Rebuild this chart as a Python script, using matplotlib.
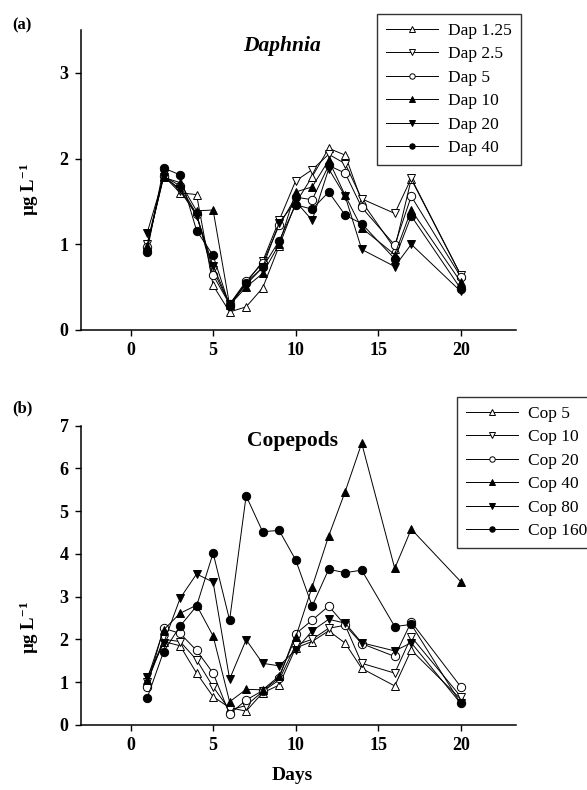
import matplotlib
matplotlib.use('Agg')
import matplotlib.pyplot as plt

# fonts: Times-like serif everywhere
plt.rcParams['font.family'] = ['Liberation Serif', 'DejaVu Serif']
plt.rcParams['mathtext.fontset'] = 'custom'
plt.rcParams['mathtext.rm'] = 'Liberation Serif'
plt.rcParams['mathtext.bf'] = 'Liberation Serif:bold'
plt.rcParams['mathtext.it'] = 'Liberation Serif:italic'

# sampling days (same for both panels)
days = [1, 2, 3, 4, 5, 6, 7, 8, 9, 10, 11, 12, 13, 14, 16, 17, 20]

# (a) Daphnia treatments
dap_labels = ['Dap 1.25', 'Dap 2.5', 'Dap 5', 'Dap 10', 'Dap 20', 'Dap 40']
dap_1_25 = [0.97, 1.80, 1.60, 1.58, 0.52, 0.21, 0.27, 0.49, 0.98, 1.48, 1.79, 2.12, 2.04, 1.50, 0.95, 1.76, 0.64]
dap_2_5 = [1.00, 1.82, 1.62, 1.35, 0.70, 0.30, 0.55, 0.80, 1.28, 1.74, 1.87, 2.05, 1.94, 1.53, 1.36, 1.77, 0.64]
dap_5 = [0.97, 1.80, 1.68, 1.35, 0.64, 0.30, 0.57, 0.78, 1.22, 1.55, 1.52, 1.92, 1.83, 1.43, 0.99, 1.56, 0.62]
dap_10 = [0.98, 1.78, 1.72, 1.39, 1.40, 0.29, 0.50, 0.66, 1.00, 1.61, 1.67, 1.98, 1.57, 1.19, 0.88, 1.40, 0.56]
dap_20 = [1.13, 1.78, 1.65, 1.33, 0.75, 0.30, 0.53, 0.73, 1.25, 1.50, 1.28, 1.88, 1.56, 0.94, 0.74, 1.00, 0.45]
dap_40 = [0.91, 1.89, 1.81, 1.16, 0.87, 0.28, 0.55, 0.73, 1.04, 1.46, 1.41, 1.61, 1.34, 1.24, 0.83, 1.33, 0.48]

# (b) Copepod treatments
cop_labels = ['Cop 5', 'Cop 10', 'Cop 20', 'Cop 40', 'Cop 80', 'Cop 160']
cop_5 = [1.00, 1.95, 1.85, 1.21, 0.66, 0.40, 0.32, 0.75, 0.93, 1.80, 1.95, 2.20, 1.91, 1.32, 0.91, 1.75, 0.60]
cop_10 = [1.00, 2.00, 1.95, 1.52, 0.89, 0.35, 0.45, 0.78, 1.05, 1.87, 2.00, 2.26, 2.33, 1.44, 1.21, 2.06, 0.66]
cop_20 = [0.89, 2.26, 2.14, 1.74, 1.21, 0.25, 0.58, 0.80, 1.10, 2.13, 2.45, 2.78, 2.33, 1.90, 1.60, 2.41, 0.89]
cop_40 = [1.05, 2.22, 2.61, 2.80, 2.08, 0.54, 0.83, 0.82, 1.14, 2.05, 3.23, 4.42, 5.46, 6.59, 3.66, 4.58, 3.35]
cop_80 = [1.12, 1.91, 2.96, 3.53, 3.34, 1.07, 1.99, 1.44, 1.38, 1.75, 2.20, 2.47, 2.38, 1.92, 1.73, 1.92, 0.50]
cop_160 = [0.62, 1.71, 2.31, 2.78, 4.02, 2.45, 5.36, 4.52, 4.55, 3.86, 2.78, 3.64, 3.56, 3.62, 2.30, 2.35, 0.50]

# marker shape / fill for the six treatments (same order in both panels)
markers = [('^', 'white'), ('v', 'white'), ('o', 'white'),
           ('^', 'black'), ('v', 'black'), ('o', 'black')]


def draw_panel(ax, series, labels, ymax):
    for vals, lab, (m, fc) in zip(series, labels, markers):
        ax.plot(days, vals, color='black', linewidth=0.7, marker=m,
                markersize=6, markerfacecolor=fc, markeredgecolor='black',
                markeredgewidth=0.7, label=lab)
    ax.set_xlim(-3, 23.36)
    ax.set_ylim(0, ymax)
    ax.set_xticks([0, 5, 10, 15, 20])
    ax.set_yticks(range(0, int(ymax) + 1))
    ax.spines['right'].set_visible(False)
    ax.spines['top'].set_visible(False)
    ax.spines['left'].set_linewidth(1.1)
    ax.spines['bottom'].set_linewidth(1.1)
    ax.tick_params(direction='out', length=4, width=1.0, labelsize=13, pad=5)
    for t in ax.get_xticklabels() + ax.get_yticklabels():
        t.set_fontweight('bold')


fig = plt.figure(figsize=(5.87, 7.90), dpi=100)
ax_a = fig.add_axes([0.138, 0.5823, 0.7415, 0.3797])
ax_b = fig.add_axes([0.138, 0.0825, 0.7415, 0.3786])

draw_panel(ax_a, [dap_1_25, dap_2_5, dap_5, dap_10, dap_20, dap_40], dap_labels, 3.5)
draw_panel(ax_b, [cop_5, cop_10, cop_20, cop_40, cop_80, cop_160], cop_labels, 7)

leg_kw = dict(loc='upper left', frameon=True, fancybox=False, fontsize=12.5,
              handlelength=3.0, handletextpad=0.6, labelspacing=0.42,
              markerscale=0.65, borderpad=0.5, borderaxespad=0)
leg_a = ax_a.legend(bbox_to_anchor=(377 / 587, 1 - 14 / 790),
                    bbox_transform=fig.transFigure, **leg_kw)
leg_b = ax_b.legend(bbox_to_anchor=(457 / 587, 1 - 397 / 790),
                    bbox_transform=fig.transFigure, **leg_kw)
for leg in (leg_a, leg_b):
    leg.get_frame().set_edgecolor('black')
    leg.get_frame().set_linewidth(1.0)

# panel titles and letters
fig.text(282 / 587, 1 - 46 / 790, 'Daphnia', fontsize=15.5, fontweight='bold',
         style='italic', ha='center', va='center')
fig.text(292 / 587, 1 - 441 / 790, 'Copepods', fontsize=15.5, fontweight='bold',
         ha='center', va='center')
fig.text(12 / 587, 1 - 25 / 790, '(a)', fontsize=12, fontweight='bold',
         ha='left', va='center')
fig.text(12 / 587, 1 - 408 / 790, '(b)', fontsize=12, fontweight='bold',
         ha='left', va='center')

ylab = r'µg L$^{\mathbf{-1}}$'
fig.text(29 / 587, 1 - 190 / 790, ylab, fontsize=13.5, fontweight='bold',
         rotation=90, ha='center', va='center')
fig.text(29 / 587, 1 - 628 / 790, ylab, fontsize=13.5, fontweight='bold',
         rotation=90, ha='center', va='center')
fig.text(292 / 587, 1 - 775 / 790, 'Days', fontsize=14, fontweight='bold',
         ha='center', va='center')

fig.savefig('out.png', dpi=100)
